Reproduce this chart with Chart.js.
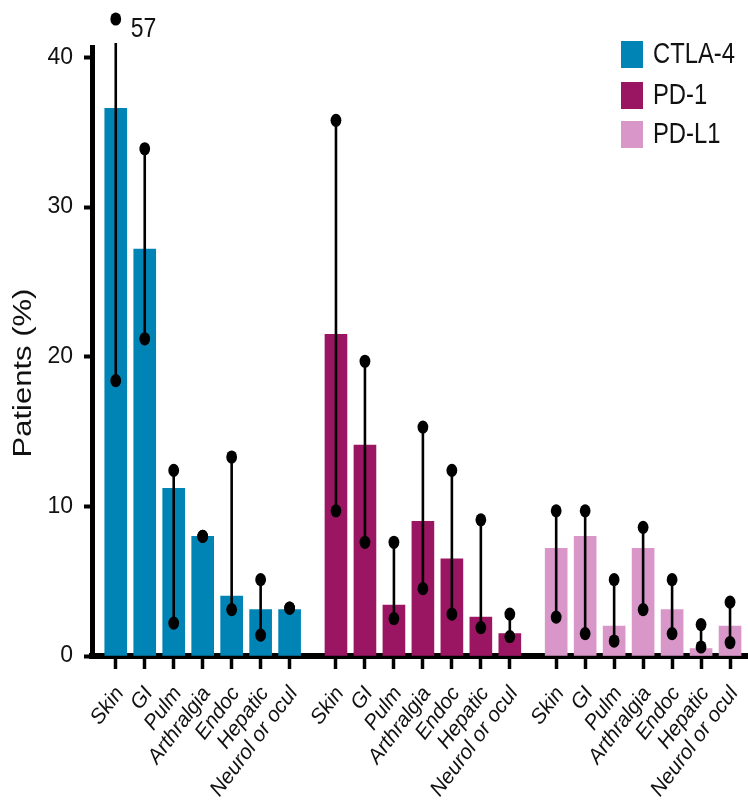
<!DOCTYPE html>
<html>
<head>
<meta charset="utf-8">
<script src="https://cdn.jsdelivr.net/npm/chart.js@4.4.1/dist/chart.umd.min.js"></script>
<style>
  html, body { margin: 0; padding: 0; background: #fff; }
  #wrap { width: 748px; height: 801px; }
</style>
</head>
<body>
<div id="wrap"><canvas id="c" width="748" height="801"></canvas></div>
<script>
// Organ-specific immune-related adverse events by checkpoint-inhibitor class
const categories = ['Skin', 'GI', 'Pulm', 'Arthralgia', 'Endoc', 'Hepatic', 'Neurol or ocul'];
const drugClasses = ['CTLA-4', 'PD-1', 'PD-L1'];

// Incidence (%) with lower / upper interval bounds
const ctla4Rate = [36.6, 27.2, 11.2, 8.0, 4.0, 3.1, 3.1];
const ctla4Low  = [18.4, 21.2, 2.2, 8.0, 3.1, 1.4, 3.2];
const ctla4High = [57, 33.9, 12.4, 8.0, 13.3, 5.1, 3.2];

const pd1Rate = [21.5, 14.1, 3.4, 9.0, 6.5, 2.6, 1.5];
const pd1Low  = [9.7, 7.6, 2.5, 4.5, 2.8, 1.9, 1.3];
const pd1High = [35.8, 19.7, 7.6, 15.3, 12.4, 9.1, 2.8];

const pdl1Rate = [7.2, 8.0, 2.0, 7.2, 3.1, 0.5, 2.0];
const pdl1Low  = [2.6, 1.5, 1.0, 3.1, 1.5, 0.6, 0.9];
const pdl1High = [9.7, 9.7, 5.1, 8.6, 5.1, 2.1, 3.6];

const yTicks = [0, 10, 20, 30, 40];

const classColors = ['#0083b5', '#9b1662', '#d897c8'];
const SANS = "'Liberation Sans', Arial, sans-serif";
const SQUEEZE = 0.82; // horizontal condensing of annotation text

// Each class occupies a block of categories; blocks are separated by a small gap
const GROUP_GAP = 0.6;
const slot = (g, i) => g * (categories.length + GROUP_GAP) + i;

const rates = [ctla4Rate, pd1Rate, pdl1Rate];
const lows = [ctla4Low, pd1Low, pdl1Low];
const highs = [ctla4High, pd1High, pdl1High];

const tickPositions = [];
const tickLabels = [];
drugClasses.forEach((_, g) => categories.forEach((cat, i) => {
  tickPositions.push(slot(g, i));
  tickLabels.push(cat);
}));

const datasets = drugClasses.map((name, g) => ({
  label: name,
  data: rates[g].map((v, i) => ({ x: slot(g, i), y: v })),
  ciLow: lows[g],
  ciHigh: highs[g],
  backgroundColor: classColors[g],
  borderWidth: 0,
  barThickness: 22
}));

function drawDot(ctx, x, y) {
  ctx.beginPath();
  ctx.ellipse(x, y, 5.4, 6.6, 0, 0, Math.PI * 2);
  ctx.fill();
}

function condensedText(ctx, text, x, y, font, align) {
  ctx.save();
  ctx.font = font;
  ctx.textAlign = align;
  ctx.textBaseline = 'middle';
  ctx.translate(x, y);
  ctx.scale(SQUEEZE, 1);
  ctx.fillText(text, 0, 0);
  ctx.restore();
}

// Interval whiskers: a line between the two bounds with a dot at each end.
// Upper bounds beyond the axis are drawn above the break and labelled.
const errorBars = {
  id: 'errorBars',
  afterDatasetsDraw(chart) {
    const { ctx, chartArea, scales: { y } } = chart;
    ctx.save();
    ctx.strokeStyle = '#000';
    ctx.fillStyle = '#000';
    chart.data.datasets.forEach((ds, di) => {
      const meta = chart.getDatasetMeta(di);
      meta.data.forEach((bar, i) => {
        const lo = ds.ciLow[i];
        const hi = ds.ciHigh[i];
        const x = bar.x;
        const beyond = hi > y.max;
        const yLo = y.getPixelForValue(lo);
        const yHi = beyond ? chartArea.top - 4 : y.getPixelForValue(hi);
        ctx.lineWidth = 2.6;
        ctx.beginPath();
        ctx.moveTo(x, yLo);
        ctx.lineTo(x, yHi);
        ctx.stroke();
        drawDot(ctx, x, yLo);
        const dotY = beyond ? chartArea.top - 28 : yHi;
        drawDot(ctx, x, dotY);
        if (beyond) {
          ctx.fillStyle = '#111';
          condensedText(ctx, String(hi), x + 15, dotY + 10, '28px ' + SANS, 'left');
          ctx.fillStyle = '#000';
        }
      });
    });
    ctx.restore();
  }
};

// Axis title and legend
const annotations = {
  id: 'annotations',
  afterDraw(chart) {
    const { ctx } = chart;
    ctx.save();
    ctx.fillStyle = '#111';
    ctx.font = '31px ' + SANS;
    ctx.textAlign = 'center';
    ctx.textBaseline = 'middle';
    ctx.translate(24, 373);
    ctx.rotate(-Math.PI / 2);
    ctx.scale(1, SQUEEZE);
    ctx.fillText('Patients (%)', 0, 0);
    ctx.restore();

    ctx.save();
    const rowY = [54, 95, 134];
    drugClasses.forEach((name, g) => {
      ctx.fillStyle = classColors[g];
      ctx.fillRect(621, rowY[g] - 13, 22, 27);
      ctx.fillStyle = '#111';
      condensedText(ctx, name, 653, rowY[g] + 1, '29px ' + SANS, 'left');
    });
    ctx.restore();
  }
};

new Chart(document.getElementById('c'), {
  type: 'bar',
  data: { datasets },
  options: {
    responsive: false,
    animation: false,
    devicePixelRatio: 1,
    layout: { padding: { top: 47, left: 0, right: 0, bottom: 0 } },
    datasets: { bar: { grouped: false } },
    plugins: {
      legend: { display: false },
      tooltip: { enabled: false }
    },
    scales: {
      x: {
        type: 'linear',
        offset: false,
        min: -0.82,
        max: 21.82,
        afterBuildTicks: (scale) => {
          scale.ticks = tickPositions.map(v => ({ value: v }));
        },
        afterFit: (scale) => {
          scale.height = 145;
          scale.paddingLeft = 0;
          scale.paddingRight = 0;
        },
        ticks: {
          autoSkip: false,
          minRotation: 53,
          maxRotation: 53,
          padding: 13,
          labelOffset: 4,
          color: '#111',
          font: { family: SANS, size: 21, style: 'italic' },
          callback: (value, index) => tickLabels[index]
        },
        grid: {
          offset: false,
          drawOnChartArea: false,
          drawTicks: true,
          tickLength: 13,
          tickWidth: 3.5,
          tickColor: '#000'
        },
        border: { display: true, color: '#000', width: 6 }
      },
      y: {
        min: 0,
        max: 40.7,
        afterBuildTicks: (scale) => {
          scale.ticks = yTicks.map(v => ({ value: v }));
        },
        afterFit: (scale) => { scale.width = 92; },
        ticks: {
          padding: 11,
          color: '#111',
          font: { family: SANS, size: 23 }
        },
        grid: {
          drawOnChartArea: false,
          drawTicks: true,
          tickLength: 8,
          tickWidth: 4,
          tickColor: '#000'
        },
        border: { display: true, color: '#000', width: 5 }
      }
    }
  },
  plugins: [errorBars, annotations]
});
</script>
</body>
</html>
